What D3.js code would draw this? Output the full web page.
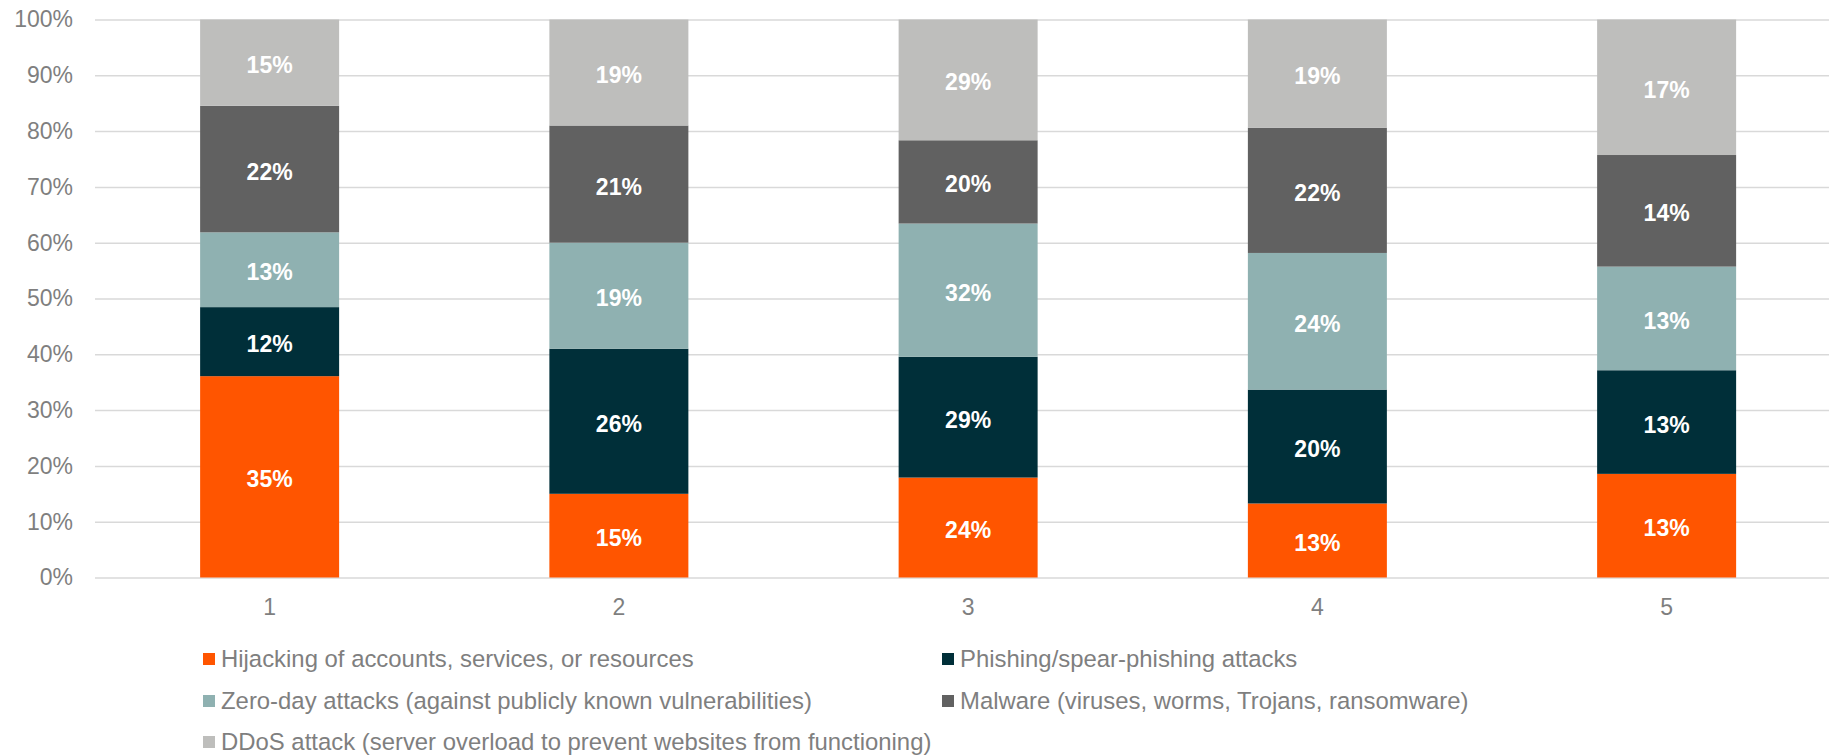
<!DOCTYPE html>
<html>
<head>
<meta charset="utf-8">
<script src="https://cdn.jsdelivr.net/npm/d3@7"></script>
<style>
	body { margin: 0; background: #ffffff; }
	svg { display: block; font-family: "Liberation Sans", Arial, sans-serif; }
</style>
</head>
<body>
<svg width="1829" height="755"></svg>
<script>
/*
DATI DEL GRAFICO
*/
var categorie = ["1", "2", "3", "4", "5"]
var nomiSerie = [
	"Hijacking of accounts, services, or resources",
	"Phishing/spear-phishing attacks",
	"Zero-day attacks (against publicly known vulnerabilities)",
	"Malware (viruses, worms, Trojans, ransomware)",
	"DDoS attack (server overload to prevent websites from functioning)"
]
var colori = ["#ff5500", "#002f39", "#8fb1b1", "#616161", "#bebebc"]
var hijacking = [35, 15, 24, 13, 13]
var phishing = [12, 26, 29, 20, 13]
var zeroDay = [13, 19, 32, 24, 13]
var malware = [22, 21, 20, 22, 14]
var ddos = [15, 19, 29, 19, 17]
var tickY = [0, 0.1, 0.2, 0.3, 0.4, 0.5, 0.6, 0.7, 0.8, 0.9, 1]

var serie = [hijacking, phishing, zeroDay, malware, ddos]

var svg = d3.select("svg")
var larghezza = 1829

/*
TABELLA PER d3.stack
*/
var righe = categorie.map(function(c, i){
	var r = { cat: c }
	serie.forEach(function(s, k){ r["s" + k] = s[i] })
	return r
})
var chiavi = serie.map(function(s, k){ return "s" + k })

var stack = d3.stack().keys(chiavi).offset(d3.stackOffsetExpand)
var strati = stack(righe)

var x = d3.scaleBand()
	.domain(categorie)
	.range([95, 95 + 5 * 349.25])
	.paddingInner(0.602)
	.paddingOuter(0.301)

var y = d3.scaleLinear()
	.domain([0, 1])
	.range([577.5, 19.5])

/*
GRIGLIA E ETICHETTE ASSE Y
*/
var assey = svg.append("g")
	.attr("transform", "translate(95,0)")
	.call(d3.axisLeft(y).tickValues(tickY).tickSize(-(larghezza - 95)).tickPadding(22).tickFormat(d3.format(".0%")))
assey.select(".domain").remove()
assey.selectAll(".tick line").attr("stroke", "#d9d9d9").attr("stroke-width", 1.5)
assey.selectAll(".tick text")
	.attr("fill", "#7f7f7f")
	.style("font-size", "23px")
	.style("font-family", "'Liberation Sans', Arial, sans-serif")

/*
ETICHETTE ASSE X
*/
var assex = svg.append("g")
	.attr("transform", "translate(0," + y(0) + ")")
	.call(d3.axisBottom(x).tickSize(0).tickPadding(21))
assex.select(".domain").remove()
assex.selectAll(".tick text")
	.attr("fill", "#7f7f7f")
	.style("font-size", "23px")
	.style("font-family", "'Liberation Sans', Arial, sans-serif")

/*
BARRE IMPILATE
*/
var gruppi = svg.append("g")
	.selectAll("g")
	.data(strati)
	.enter().append("g")
	.attr("fill", function(d, k){ return colori[k] })

gruppi.selectAll("rect")
	.data(function(d){ return d })
	.enter().append("rect")
	.attr("x", function(d){ return x(d.data.cat) })
	.attr("width", x.bandwidth())
	.attr("y", function(d){ return y(d[1]) })
	.attr("height", function(d){ return y(d[0]) - y(d[1]) })

/*
ETICHETTE DEI VALORI
*/
strati.forEach(function(strato, k){
	svg.append("g")
		.selectAll("text")
		.data(strato)
		.enter().append("text")
		.attr("x", function(d){ return x(d.data.cat) + x.bandwidth() / 2 })
		.attr("y", function(d){ return (y(d[0]) + y(d[1])) / 2 })
		.attr("dy", "0.46em")
		.attr("text-anchor", "middle")
		.attr("fill", "#ffffff")
		.attr("font-weight", "bold")
		.style("font-size", "23px")
		.text(function(d){ return serie[k][categorie.indexOf(d.data.cat)] + "%" })
})

/*
LEGENDA
*/
var posLegenda = [
	[203, 658], [942, 658],
	[203, 700], [942, 700],
	[203, 741]
]
var legenda = svg.append("g")
	.selectAll("g")
	.data(nomiSerie)
	.enter().append("g")
	.attr("transform", function(d, i){ return "translate(" + posLegenda[i][0] + "," + posLegenda[i][1] + ")" })
legenda.append("rect")
	.attr("x", 0)
	.attr("y", -5)
	.attr("width", 12)
	.attr("height", 12)
	.attr("fill", function(d, i){ return colori[i] })
legenda.append("text")
	.attr("x", 18)
	.attr("y", 0)
	.attr("dy", "0.36em")
	.attr("fill", "#7f7f7f")
	.style("font-size", "23.9px")
	.text(function(d){ return d })
</script>
</body>
</html>
